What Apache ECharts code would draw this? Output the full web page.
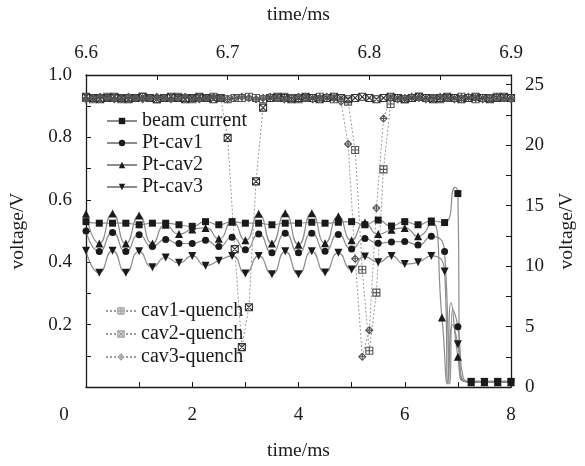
<!DOCTYPE html>
<html>
<head>
<meta charset="utf-8">
<script src="https://cdn.jsdelivr.net/npm/echarts@6/dist/echarts.min.js"></script>
<style>
html, body { margin: 0; background: #fff; }
#chart { width: 585px; height: 466px; }
</style>
</head>
<body>
<div id="chart"></div>
<script>
// bottom axis (ms): probe signals, one marker every 0.25 ms
const baseTime = [0, 0.25, 0.5, 0.75, 1, 1.25, 1.5, 1.75, 2, 2.25, 2.5, 2.75, 3, 3.25, 3.5, 3.75, 4, 4.25, 4.5, 4.75, 5, 5.25, 5.5, 5.75, 6, 6.25, 6.5, 6.75]
const beamVals = [0.53, 0.525, 0.525, 0.525, 0.52, 0.525, 0.525, 0.52, 0.515, 0.53, 0.52, 0.53, 0.525, 0.525, 0.52, 0.525, 0.525, 0.528, 0.525, 0.528, 0.53, 0.52, 0.535, 0.516, 0.53, 0.52, 0.532, 0.527]
const cav1Vals = [0.50, 0.434, 0.495, 0.434, 0.488, 0.45, 0.473, 0.46, 0.46, 0.47, 0.45, 0.48, 0.44, 0.49, 0.43, 0.493, 0.43, 0.493, 0.435, 0.489, 0.442, 0.476, 0.461, 0.465, 0.466, 0.455, 0.483, 0.434]
const cav2Vals = [0.555, 0.46, 0.556, 0.46, 0.55, 0.46, 0.52, 0.49, 0.505, 0.51, 0.475, 0.53, 0.47, 0.555, 0.46, 0.557, 0.456, 0.557, 0.461, 0.547, 0.47, 0.527, 0.49, 0.504, 0.51, 0.483, 0.53]
const cav3Vals = [0.437, 0.366, 0.437, 0.366, 0.435, 0.384, 0.415, 0.398, 0.42, 0.389, 0.405, 0.42, 0.364, 0.42, 0.361, 0.435, 0.361, 0.435, 0.367, 0.43, 0.377, 0.418, 0.40, 0.42, 0.394, 0.40, 0.42, 0.37]

// after the trip; mark 0 = curve point without a marker
const beamTailTime = [6.95, 7.0, 7.04, 7.25, 7.5, 7.75, 8.0]
const beamTailVals = [0.64, 0.62, 0.03, 0.018, 0.018, 0.018, 0.018]
const beamTailMark = [0, 1, 0, 1, 1, 1, 1]
const cav1TailTime = [6.85, 6.9, 7.0, 7.1, 7.25, 7.5, 7.75, 8.0]
const cav1TailVals = [0.01, 0.25, 0.193, 0.03, 0.018, 0.018, 0.018, 0.018]
const cav1TailMark = [0, 0, 1, 0, 1, 1, 1, 1]
const cav2TailTime = [6.7, 6.8, 6.87, 7.0, 7.1, 7.25, 7.5, 7.75, 8.0]
const cav2TailVals = [0.223, 0.01, 0.27, 0.097, 0.02, 0.015, 0.015, 0.015, 0.015]
const cav2TailMark = [1, 0, 0, 1, 0, 1, 1, 1, 1]
const cav3TailTime = [6.82, 6.9, 7.0, 7.1, 7.25, 7.5, 7.75, 8.0]
const cav3TailVals = [0.01, 0.2, 0.137, 0.02, 0.015, 0.015, 0.015, 0.015]
const cav3TailMark = [0, 0, 1, 0, 1, 1, 1, 1]

// top axis (ms) / right axis (V): quench detector signals
const qTime = [6.600, 6.605, 6.610, 6.615, 6.620, 6.625, 6.630, 6.635, 6.640, 6.645,
  6.650, 6.655, 6.660, 6.665, 6.670, 6.675, 6.680, 6.685, 6.690, 6.695,
  6.700, 6.705, 6.710, 6.715, 6.720, 6.725, 6.730, 6.735, 6.740, 6.745,
  6.750, 6.755, 6.760, 6.765, 6.770, 6.775, 6.780, 6.785, 6.790, 6.795,
  6.800, 6.805, 6.810, 6.815, 6.820, 6.825, 6.830, 6.835, 6.840, 6.845,
  6.850, 6.855, 6.860, 6.865, 6.870, 6.875, 6.880, 6.885, 6.890, 6.895, 6.900]
const cav1Quench = [23.9, 23.8, 23.9, 24.0, 23.9, 23.8, 23.9, 23.9, 24.0, 23.9,
  23.8, 23.9, 23.9, 24.0, 23.9, 23.8, 23.9, 23.9, 24.0, 23.9,
  23.8, 23.9, 23.9, 24.0, 23.9, 23.8, 23.9, 23.9, 24.0, 23.9,
  23.8, 23.9, 23.9, 24.0, 23.9, 23.8, 23.9, 23.6, 19.6, 9.7,
  3.0, 7.8, 18.0, 23.4, 23.9, 23.8, 23.9, 24.0, 23.9, 23.9,
  23.8, 23.9, 23.9, 24.0, 23.9, 23.8, 23.9, 23.9, 24.0, 23.9, 23.9]
const cav2Quench = [24.0, 23.9, 23.8, 23.9, 24.0, 23.9, 23.8, 23.9, 24.0, 23.9,
  23.8, 23.9, 24.0, 23.9, 23.8, 23.9, 24.0, 23.9, 23.8, 23.9,
  20.6, 11.4, 3.3, 6.6, 17.0, 23.1, 23.9, 24.0, 23.9, 23.8,
  23.9, 24.0, 23.9, 23.8, 23.9, 24.0, 23.9, 23.8, 23.9, 24.0,
  23.9, 23.8, 23.9, 24.0, 23.9, 23.8, 23.9, 24.0, 23.9, 23.8,
  23.9, 24.0, 23.9, 23.8, 23.9, 24.0, 23.9, 23.8, 23.9, 24.0, 23.9]
const cav3Quench = [23.8, 23.9, 24.0, 23.9, 23.8, 23.9, 24.0, 23.9, 23.8, 23.9,
  24.0, 23.9, 23.8, 23.9, 24.0, 23.9, 23.8, 23.9, 24.0, 23.9,
  23.8, 23.9, 24.0, 23.9, 23.8, 23.9, 24.0, 23.9, 23.8, 23.9,
  24.0, 23.9, 23.8, 23.9, 24.0, 23.9, 23.6, 20.1, 10.6, 2.5,
  4.7, 14.8, 22.2, 23.9, 23.8, 23.9, 24.0, 23.9, 23.8, 23.9,
  24.0, 23.9, 23.8, 23.9, 24.0, 23.9, 23.8, 23.9, 24.0, 23.9, 23.8]

const serif = 'Liberation Serif'
const ink = '#1a1a1a'

function probeData(vals, tailTime, tailVals, tailMark) {
  const pts = vals.map((v, i) => [baseTime[i], v])
  tailTime.forEach((t, i) => {
    pts.push(tailMark[i] ? [t, tailVals[i]] : { value: [t, tailVals[i]], symbol: 'none' })
  })
  return pts
}

function probeSeries(name, data, symbol, rotate) {
  return {
    name,
    type: 'line',
    xAxisIndex: 0,
    yAxisIndex: 0,
    smooth: 0.6,
    data,
    symbol,
    symbolSize: symbol === 'triangle' ? 8 : 7,
    symbolRotate: rotate || 0,
    itemStyle: { color: ink },
    lineStyle: { color: '#8c8c8c', width: 1.2 }
  }
}

function quenchSeries(name, vals, symbol, stroke) {
  return {
    name,
    type: 'line',
    xAxisIndex: 1,
    yAxisIndex: 1,
    data: vals.map((v, i) => [qTime[i], v]),
    symbol,
    symbolSize: 7,
    itemStyle: { color: 'rgba(255,255,255,0)', borderColor: stroke, borderWidth: 1.1 },
    lineStyle: { color: '#9a9a9a', width: 1, type: [2, 2] }
  }
}

const axisLine = { show: true, onZero: false, lineStyle: { color: ink, width: 1.3 } }
const tick = { show: true, inside: true, length: 5, lineStyle: { color: ink } }
const minor = { show: true, splitNumber: 2, length: 5, lineStyle: { color: ink } }
const label = { color: ink, fontFamily: serif, fontSize: 19 }
const title = { color: ink, fontFamily: serif, fontSize: 19.5 }
const legendText = { color: ink, fontFamily: serif, fontSize: 20 }

const chart = echarts.init(document.getElementById('chart'))
chart.setOption({
  animation: false,
  grid: { left: 86, right: 72, top: 67, bottom: 72 },
  xAxis: [
    {
      type: 'value', min: 0, max: 8, interval: 2, position: 'bottom',
      name: 'time/ms', nameLocation: 'middle', nameGap: 54, nameTextStyle: title,
      axisLine, axisTick: tick, minorTick: minor, splitLine: { show: false },
      axisLabel: {
        ...label, margin: 19,
        formatter: v => v === 0 ? '{z|0}' : String(v),
        rich: { z: { fontFamily: serif, fontSize: 19, color: ink, padding: [0, 44, 0, 0] } }
      }
    },
    {
      type: 'value', min: 6.6, max: 6.9, interval: 0.1, position: 'top',
      name: 'time/ms', nameLocation: 'middle', nameGap: 50, nameTextStyle: title,
      axisLine, axisTick: tick, minorTick: minor, splitLine: { show: false },
      axisLabel: { ...label, margin: 12, formatter: v => v.toFixed(1) }
    }
  ],
  yAxis: [
    {
      type: 'value', min: 0, max: 1, interval: 0.2, position: 'left',
      name: 'voltage/V', nameLocation: 'middle', nameGap: 58, nameTextStyle: title,
      axisLine, axisTick: tick, minorTick: minor, splitLine: { show: false },
      axisLabel: { ...label, margin: 14, padding: [10, 0, 0, 0], formatter: v => v === 0 ? '' : v.toFixed(1) }
    },
    {
      type: 'value', min: 0, max: 25.8, interval: 5, position: 'right',
      name: 'voltage/V', nameLocation: 'middle', nameGap: 46, nameTextStyle: title,
      axisLine, axisTick: tick, minorTick: minor, splitLine: { show: false },
      axisLabel: { ...label, margin: 14, padding: [8, 0, 0, 0], showMaxLabel: false }
    }
  ],
  legend: [
    {
      data: ['beam current', 'Pt-cav1', 'Pt-cav2', 'Pt-cav3'],
      orient: 'vertical', left: 101, top: 106, itemWidth: 30, itemHeight: 8, itemGap: 2,
      textStyle: legendText
    },
    {
      data: ['cav1-quench', 'cav2-quench', 'cav3-quench'],
      orient: 'vertical', left: 100, top: 296, itemWidth: 30, itemHeight: 8, itemGap: 3,
      itemStyle: { color: '#cfcfcf', borderColor: '#999', borderWidth: 1 },
      textStyle: legendText
    }
  ],
  series: [
    probeSeries('beam current', probeData(beamVals, beamTailTime, beamTailVals, beamTailMark), 'rect'),
    probeSeries('Pt-cav1', probeData(cav1Vals, cav1TailTime, cav1TailVals, cav1TailMark), 'circle'),
    probeSeries('Pt-cav2', probeData(cav2Vals, cav2TailTime, cav2TailVals, cav2TailMark), 'triangle'),
    probeSeries('Pt-cav3', probeData(cav3Vals, cav3TailTime, cav3TailVals, cav3TailMark), 'triangle', 180),
    quenchSeries('cav1-quench', cav1Quench, 'path://M0,0L10,0L10,10L0,10Z M5,0L5,10 M0,5L10,5', '#555'),
    quenchSeries('cav2-quench', cav2Quench, 'path://M0,0L10,0L10,10L0,10Z M0,0L10,10 M10,0L0,10', '#333'),
    quenchSeries('cav3-quench', cav3Quench, 'path://M5,0L10,5L5,10L0,5Z M5,0L5,10 M0,5L10,5', '#555')
  ]
})
</script>
</body>
</html>
